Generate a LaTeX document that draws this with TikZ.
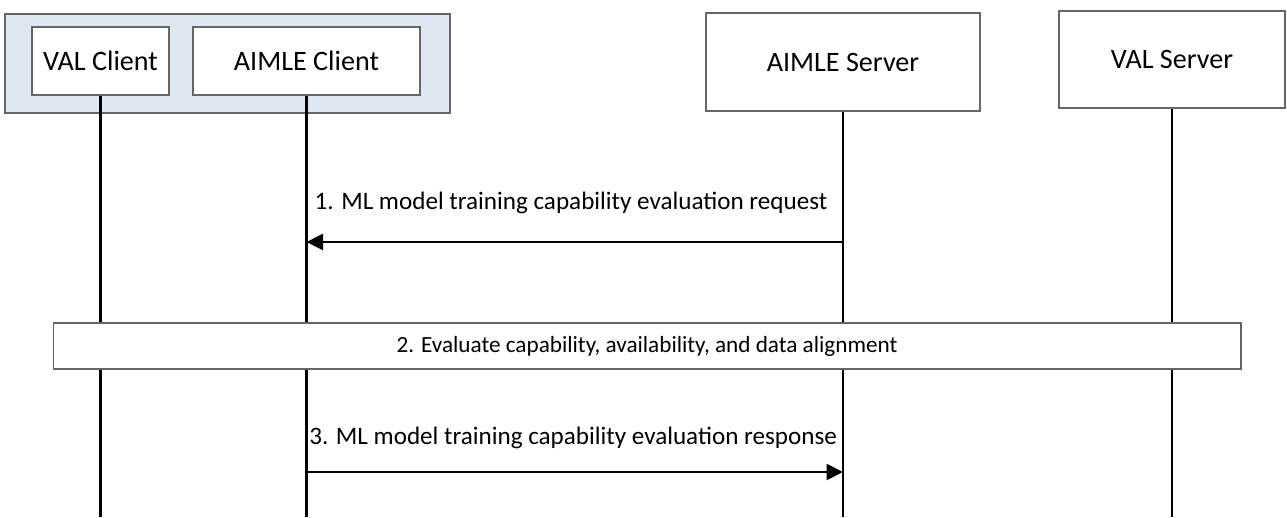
\documentclass[tikz,border=0pt]{standalone}
\usepackage{fontspec}
\setmainfont{Carlito}
\usepackage{xcolor}
\usetikzlibrary{arrows.meta, positioning, calc}

\definecolor{groupblue}{HTML}{DEE8F3}
\definecolor{boxgray}{HTML}{666666}

\begin{document}
\begin{tikzpicture}[
  x=0.02cm, y=-0.02cm,
  every node/.style={font=\fontsize{16}{19}\selectfont},
  entity/.style={rectangle, draw=boxgray, line width=0.7pt, fill=white, minimum height=1.36cm, inner sep=0pt},
  lifeline/.style={line width=1.5pt, black},
  msg/.style={-{Triangle[length=0.33cm, width=0.32cm]}, line width=1.5pt, black},
  msglabel/.style={font=\fontsize{14.3}{17}\selectfont, inner sep=0pt},
]
\useasboundingbox (0,0) rectangle (1287,517);

% UE side - client group
\node[rectangle, draw=boxgray, line width=0.7pt, fill=groupblue, minimum width=8.9cm, minimum height=1.98cm] (group) at (227.5,63.5) {};
\node[entity, minimum width=2.74cm] (valC) at (100.5,61) {VAL Client};
\node[entity, minimum width=4.54cm] (aimleC) at (306.5,61) {AIMLE Client};

% Network side
\node[entity, minimum width=5.48cm, minimum height=1.96cm] (aimleS) at (843,62) {AIMLE Server};
\node[entity, minimum width=4.52cm, minimum height=1.94cm] (valS) at (1172,59.5) {VAL Server};

% Lifelines
\coordinate (valCend) at (valC.south |- 0,517);
\coordinate (aimleCend) at (aimleC.south |- 0,517);
\coordinate (aimleSend) at (aimleS.south |- 0,517);
\coordinate (valSend) at (valS.south |- 0,517);
\draw[lifeline] (valC.south) -- (valCend);
\draw[lifeline] (aimleC.south) -- (aimleCend);
\draw[lifeline] (aimleS.south) -- (aimleSend);
\draw[lifeline] (valS.south) -- (valSend);

% 1 - request
\coordinate (req1) at (aimleS.south |- 0,242);
\coordinate (req2) at (aimleC.south |- 0,242);
\draw[msg] (req1) -- (req2);
\node[msglabel] (reqlabel) at (571,203) {1. ML model training capability evaluation request};

% 2 - local evaluation
\node[entity, minimum width=23.76cm, minimum height=0.92cm, font=\fontsize{13.2}{16}\selectfont] (eval) at (647,346) {2. Evaluate capability, availability, and data alignment};

% 3 - response
\coordinate (resp1) at (aimleC.south |- 0,472);
\coordinate (resp2) at (aimleS.south |- 0,472);
\draw[msg] (resp1) -- (resp2);
\node[msglabel, anchor=west] (resplabel) at (309,438) {3. ML model training capability evaluation response};

\end{tikzpicture}
\end{document}
